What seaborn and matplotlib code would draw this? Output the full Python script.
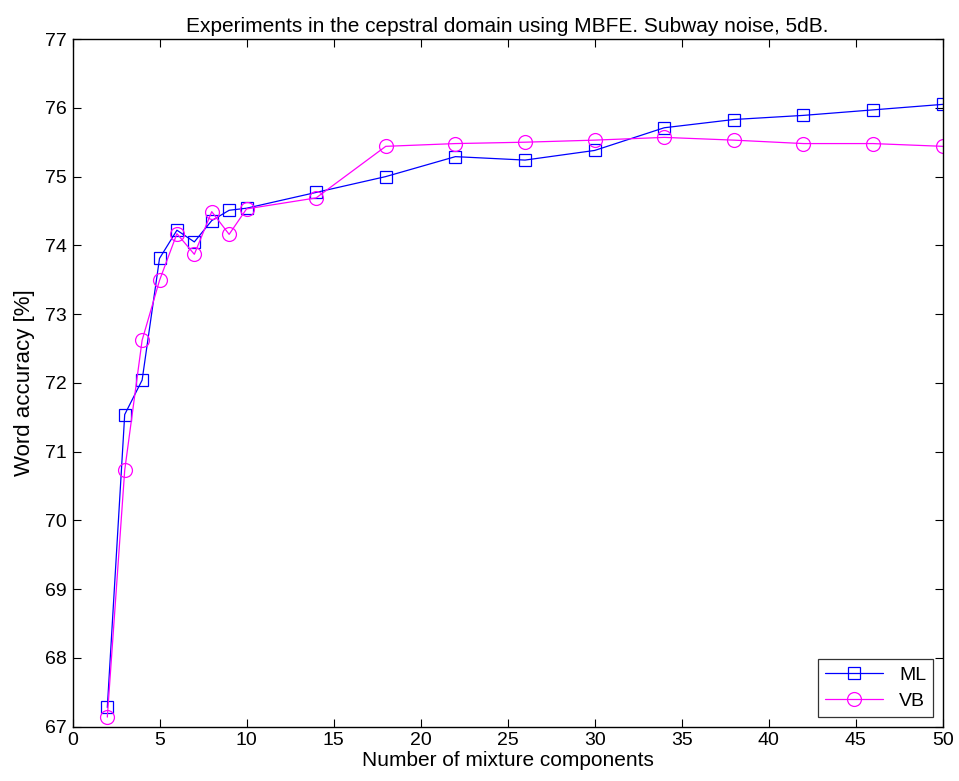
import matplotlib
matplotlib.use("Agg")
import matplotlib.pyplot as plt
import seaborn as sns
import pandas as pd

components = [2, 3, 4, 5, 6, 7, 8, 9, 10, 14, 18, 22, 26, 30, 34, 38, 42, 46, 50]
ml_acc = [67.28, 71.54, 72.04, 73.81, 74.22, 74.05, 74.36, 74.51, 74.54, 74.77,
          75.00, 75.29, 75.24, 75.38, 75.71, 75.83, 75.89, 75.97, 76.05]
vb_acc = [67.14, 70.73, 72.62, 73.49, 74.17, 73.87, 74.49, 74.16, 74.53, 74.69,
          75.44, 75.48, 75.50, 75.53, 75.57, 75.53, 75.48, 75.48, 75.44]
x_ticks = [0, 5, 10, 15, 20, 25, 30, 35, 40, 45, 50]
y_ticks = [67, 68, 69, 70, 71, 72, 73, 74, 75, 76, 77]

sns.set_theme(style="white")
plt.rcParams['font.family'] = ['Liberation Sans', 'DejaVu Sans']
plt.rcParams['xtick.direction'] = 'in'
plt.rcParams['ytick.direction'] = 'in'
plt.rcParams['text.color'] = 'black'
plt.rcParams['axes.labelcolor'] = 'black'
plt.rcParams['xtick.color'] = 'black'
plt.rcParams['ytick.color'] = 'black'

fig = plt.figure(figsize=(9.59, 7.81), dpi=100)
ax = fig.add_axes([0.0756, 0.0695, 0.9074, 0.8805])

df_ml = pd.DataFrame({"x": components, "y": ml_acc})
df_vb = pd.DataFrame({"x": components, "y": vb_acc})

sns.lineplot(data=df_ml, x="x", y="y", ax=ax, color="#0000ff", lw=0.9,
             marker="s", markersize=9, markerfacecolor="none",
             markeredgecolor="#0000ff", markeredgewidth=0.9, label="ML")
sns.lineplot(data=df_vb, x="x", y="y", ax=ax, color="#ff00ff", lw=0.9,
             marker="o", markersize=10, markerfacecolor="none",
             markeredgecolor="#ff00ff", markeredgewidth=0.9, label="VB")

ax.set_xlim(0, 50)
ax.set_ylim(67, 77)
ax.set_xticks(x_ticks)
ax.set_yticks(y_ticks)
ax.tick_params(axis='both', which='both', labelsize=14, length=6, width=0.8,
               color='black', labelcolor='black',
               top=True, right=True, bottom=True, left=True, pad=4)
for s in ax.spines.values():
    s.set_color('black')
    s.set_linewidth(1.0)
    s.set_visible(True)

ax.set_xlabel("Number of mixture components", fontsize=15, labelpad=1, color='black')
ax.set_ylabel("Word accuracy [%]", fontsize=16, labelpad=7, color='black')
ax.set_title("Experiments in the cepstral domain using MBFE. Subway noise, 5dB.",
             fontsize=15, pad=5, color='black')

leg = ax.legend(loc="lower right", fontsize=14, frameon=True, fancybox=False,
                handlelength=3.0, borderpad=0.35, labelspacing=0.45,
                borderaxespad=0.5)
leg.get_frame().set_edgecolor('black')
leg.get_frame().set_linewidth(0.9)
for t in leg.get_texts():
    t.set_color('black')

fig.savefig("out.png", dpi=100)
